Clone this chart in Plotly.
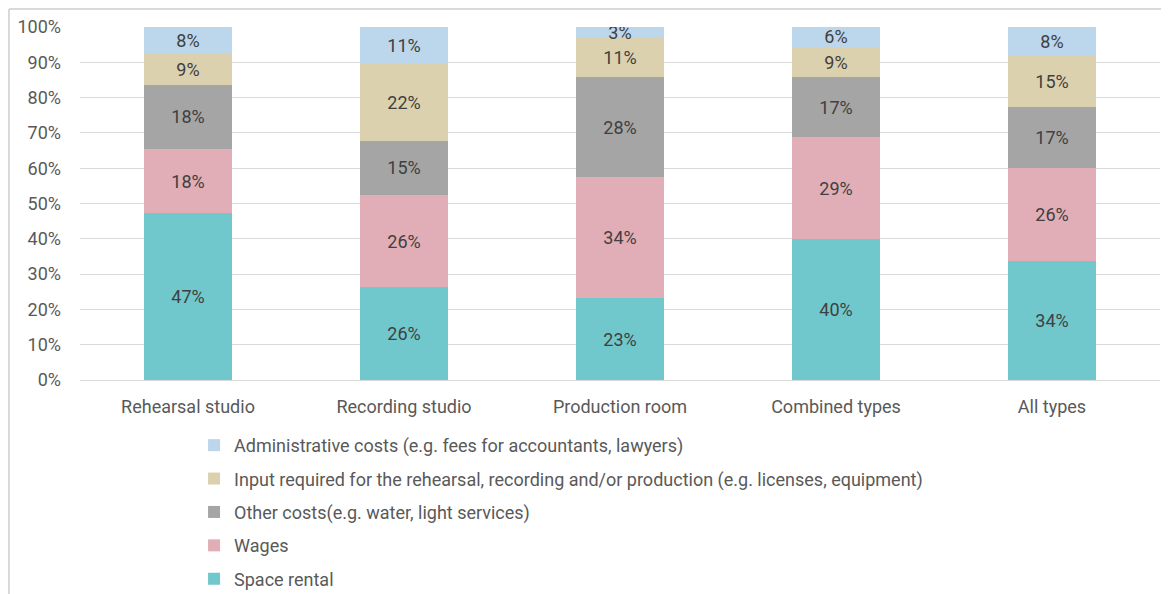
import plotly.graph_objects as go

categories = ["Rehearsal studio", "Recording studio", "Production room", "Combined types", "All types"]

space_rental = [47.3, 26.3, 23.2, 39.9, 33.7]
wages = [18.1, 26.1, 34.3, 28.9, 26.4]
other_costs = [18.3, 15.4, 28.3, 16.9, 17.2]
input_required = [8.7, 21.7, 11.1, 8.7, 14.5]
admin_costs = [7.6, 10.5, 3.1, 5.6, 8.2]

series = [
    ("Space rental", space_rental, "#70c8cc"),
    ("Wages", wages, "#e1adb6"),
    ("Other costs(e.g. water, light services)", other_costs, "#a5a5a5"),
    ("Input required for the rehearsal, recording and/or production (e.g. licenses, equipment)", input_required, "#dcd1ae"),
    ("Administrative costs (e.g. fees for accountants, lawyers)", admin_costs, "#bcd6ec"),
]

font_family = "Roboto"
grey = "#595959"

fig = go.Figure()
for i, (name, vals, col) in enumerate(series):
    fig.add_trace(go.Bar(
        x=categories, y=vals, name=name,
        legendgroup="g%d" % i, legendrank=len(series) - i,
        marker=dict(color=col, line=dict(width=0)),
        text=vals, texttemplate="%{y:.0f}%",
        textposition="inside", insidetextanchor="middle",
        constraintext="none",
        textfont=dict(family=font_family, size=18, color="#404040"),
    ))

# the page body adds an 8px offset, so the figure is a bit smaller
fig.update_layout(
    barmode="stack",
    bargap=0.59,
    width=1161, height=586,
    margin=dict(l=72, r=9, t=19, b=214, autoexpand=False),
    paper_bgcolor="white", plot_bgcolor="white",
    font=dict(family=font_family, size=18, color=grey),
    legend=dict(
        orientation="v", traceorder="grouped", tracegroupgap=7,
        x=0.1056, xanchor="left", y=-0.133, yanchor="top",
        font=dict(family=font_family, size=18, color=grey),
        itemwidth=30,
    ),
    showlegend=True,
)
fig.update_yaxes(
    range=[0, 100], dtick=10, ticksuffix="%",
    showgrid=True, gridcolor="#d9d9d9", gridwidth=1,
    zeroline=False, showline=False,
    tickfont=dict(size=18, color=grey), ticks="", ticklabelstandoff=18,
)
fig.update_xaxes(
    showline=True, linecolor="#d9d9d9", linewidth=1,
    showgrid=False, ticks="", ticklabelstandoff=10,
    tickfont=dict(size=18, color=grey),
)
# light frame lines (top and left) around the chart
fig.add_shape(type="line", xref="paper", yref="paper",
              x0=-71 / 1080, x1=1 + 9 / 1080, y0=1 + 18 / 353, y1=1 + 18 / 353,
              line=dict(color="#d9d9d9", width=2), layer="above")
fig.add_shape(type="line", xref="paper", yref="paper",
              x0=-71 / 1080, x1=-71 / 1080, y0=1 + 18 / 353, y1=-214 / 353,
              line=dict(color="#d9d9d9", width=2), layer="above")

fig.write_html("out.html")
